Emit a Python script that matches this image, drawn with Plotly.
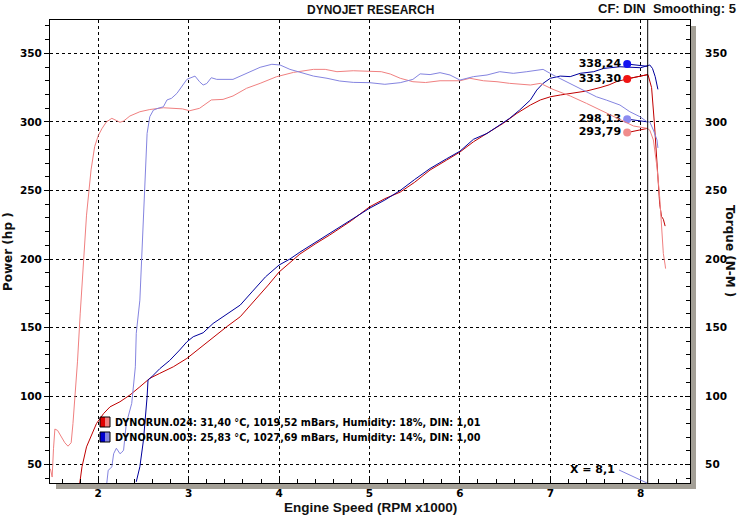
import plotly.graph_objects as go

# ---------------- data ----------------
# DYNORUN.024 (red) power (hp)
power_024_rpm = [1.79, 1.82, 1.87, 1.93, 1.98, 2.06, 2.13, 2.24, 2.35, 2.46, 2.57, 2.68, 2.83, 2.98,
                 3.12, 3.27, 3.42, 3.57, 3.75, 3.88, 4.0, 4.12, 4.23, 4.4, 4.56, 4.8, 5.0, 5.17, 5.34,
                 5.5, 5.67, 5.85, 6.0, 6.15, 6.33, 6.48, 6.63, 6.78, 6.89, 7.0, 7.11, 7.26, 7.40, 7.55,
                 7.65, 7.73, 7.88, 8.08, 8.12, 8.15, 8.18, 8.21, 8.23, 8.25, 8.27]
power_024 = [34, 48.5, 63, 72.8, 80, 87.4, 92.2, 95.9, 100.8, 106.8, 113, 116.6, 121.4, 127.5,
             134.8, 143.3, 150.6, 157.9, 171, 181, 190.5, 197.5, 203.6, 211, 217.5, 228, 238, 244, 248.8,
             256, 264.9, 272, 278, 285.5, 292.8, 299, 306.2, 312.3, 316, 318.3, 319.6, 321.3, 322.5, 325,
             327, 329.3, 331.8, 334.5, 325, 300, 270, 240, 231, 229, 224]

# DYNORUN.024 (red) torque (N-M)
torque_024_rpm = [1.47, 1.49, 1.505, 1.52, 1.55, 1.59, 1.63, 1.665, 1.70, 1.72, 1.74, 1.77, 1.80, 1.83,
                  1.87, 1.92, 1.96, 2.0, 2.04, 2.09, 2.15, 2.2, 2.24, 2.28, 2.35, 2.46, 2.57, 2.72, 2.83,
                  2.93, 3.01, 3.12, 3.25, 3.38, 3.49, 3.64, 3.79, 3.97, 4.16, 4.38, 4.51, 4.64, 4.82,
                  5.04, 5.13, 5.23, 5.34, 5.48, 5.62, 5.78, 6.0, 6.11, 6.26, 6.41, 6.55, 6.78, 6.89,
                  7.03, 7.22, 7.40, 7.59, 7.77, 7.92, 8.07, 8.10, 8.14, 8.18, 8.21, 8.23, 8.25, 8.27, 8.275]
torque_024 = [47, 41, 62, 76, 75, 70, 66, 63.5, 66, 80, 97, 125, 160, 195,
              232, 265, 282, 290, 295, 300, 302.6, 301, 299.7, 300.6, 304.3, 307.4, 309, 310.3, 310,
              309.5, 308.1, 309.9, 316, 316.4, 318.9, 324.5, 328.1, 332.9, 336.1, 338.3, 338.3, 336.6, 337.3,
              336.6, 336.6, 334.9, 331.8, 329.3, 328.7, 330, 330, 331.8, 330, 329.3, 328.1, 326.9, 328.1,
              323.7, 318.9, 313.5, 307.4, 301.3, 297, 295.3, 294, 286.8, 267, 245, 228, 204, 195.6, 193]

# DYNORUN.003 (blue) power (hp)
power_003_rpm = [2.42, 2.46, 2.50, 2.52, 2.54, 2.55, 2.59, 2.68, 2.79, 2.90, 2.98, 3.05, 3.16, 3.27,
                 3.38, 3.49, 3.57, 3.7, 3.85, 4.0, 4.12, 4.23, 4.4, 4.56, 4.8, 5.0, 5.17, 5.34, 5.5,
                 5.67, 5.85, 6.0, 6.15, 6.30, 6.44, 6.55, 6.66, 6.78, 6.85, 6.92, 7.0, 7.11, 7.22,
                 7.33, 7.48, 7.59, 7.77, 7.9, 8.0, 8.1, 8.13, 8.16, 8.19]
power_003 = [37.5, 48.5, 68, 82.5, 99.5, 111.7, 114, 120, 126, 133.6, 139.6, 143.3, 146.2, 153,
             157.9, 162.7, 166.4, 176, 187, 195.6, 200, 205, 212, 219, 229, 237, 243, 250, 258,
             266, 273, 278.6, 287.3, 291.6, 297.7, 302.6, 308.6, 316, 323.2, 328.1, 331.8, 333.4, 333,
             335.4, 336.6, 339, 340.2, 340, 339.5, 341.5, 339, 333, 323.7]

# DYNORUN.003 (blue) torque (N-M)
torque_003_rpm = [2.09, 2.11, 2.13, 2.15, 2.17, 2.20, 2.22, 2.24, 2.26, 2.28, 2.31, 2.34, 2.37, 2.41,
                  2.42, 2.46, 2.49, 2.52, 2.54, 2.57, 2.61, 2.66, 2.72, 2.76, 2.81, 2.87, 2.92, 2.98,
                  3.07, 3.12, 3.16, 3.20, 3.25, 3.31, 3.49, 3.64, 3.79, 3.92, 4.01, 4.12, 4.23, 4.38,
                  4.53, 4.67, 4.82, 5.0, 5.17, 5.34, 5.48, 5.56, 5.67, 5.78, 5.89, 6.0, 6.15, 6.30,
                  6.44, 6.59, 6.74, 6.85, 6.92, 7.03, 7.14, 7.29, 7.40, 7.51, 7.62, 7.77, 7.88, 7.99,
                  8.07, 8.10, 8.14, 8.18, 8.19]
torque_003 = [34, 46, 47, 48.5, 58, 62, 60, 58, 59, 60.6, 80, 88, 94.7, 121.4,
              145.8, 170, 215, 260, 291.6, 303.8, 308.6, 309.9, 311, 316, 317.2, 320.8, 325.6, 331,
              333.4, 329.3, 326.9, 328, 332.2, 331, 331, 335.4, 339.8, 342, 341.5, 338.3, 336.1, 333.4,
              331.8, 329.8, 328.8, 328.6, 327.4, 328.6, 331, 335, 334.5, 335.9, 334.2, 330.5, 333, 334.2,
              336.6, 335.4, 336.6, 337.8, 338.3, 334.2, 330.5, 325.6, 322, 318.3, 315.9, 312.3, 307.4, 303.8,
              300.1, 300, 294, 286.8, 281]

# cursor readout labels
cursor_rpm = 8.077
label_texts = ["338,24", "333,30", "298,13", "293,79"]
label_dot_rpm = 7.85
label_dot_y = [342.2, 331.3, 302.0, 292.2]
label_curve_y = [340.5, 334.5, 300.0, 295.3]

legend_lines = ["DYNORUN.024: 31,40 °C, 1019,52 mBars, Humidity: 18%, DIN: 1,01",
                "DYNORUN.003: 25,83 °C, 1027,69 mBars, Humidity: 14%, DIN: 1,00"]

# ---------------- style ----------------
DARK_RED = "#c00000"
LIGHT_RED = "#f08080"
DARK_BLUE = "#00009c"
LIGHT_BLUE = "#8484e0"
DOT_COLORS = ["#1414f0", "#f01414", "#8c8cf0", "#f08c8c"]
LEADER_COLORS = [DARK_BLUE, DARK_RED, DARK_BLUE, DARK_RED]
SHADOW = "#a39f96"
FONT = "DejaVu Sans"
NARROW = "Liberation Sans"

X_RANGE = [1.466, 8.545]
Y_RANGE = [36.65, 374.3]

fig = go.Figure()

fig.add_trace(go.Scatter(x=torque_024_rpm, y=torque_024, mode="lines", yaxis="y2",
                         line=dict(color=LIGHT_RED, width=1), name="Torque 024"))
fig.add_trace(go.Scatter(x=torque_003_rpm, y=torque_003, mode="lines", yaxis="y2",
                         line=dict(color=LIGHT_BLUE, width=1), name="Torque 003"))
fig.add_trace(go.Scatter(x=power_024_rpm, y=power_024, mode="lines",
                         line=dict(color=DARK_RED, width=1), name="Power 024"))
fig.add_trace(go.Scatter(x=power_003_rpm, y=power_003, mode="lines",
                         line=dict(color=DARK_BLUE, width=1), name="Power 003"))

# leader lines from label dots to curves
for i in range(4):
    fig.add_trace(go.Scatter(x=[label_dot_rpm, cursor_rpm], y=[label_dot_y[i], label_curve_y[i]],
                             mode="lines", line=dict(color=LEADER_COLORS[i], width=1),
                             hoverinfo="skip"))
fig.add_trace(go.Scatter(x=[label_dot_rpm] * 4, y=label_dot_y, mode="markers+text",
                         text=label_texts, textposition="middle left",
                         textfont=dict(family=FONT, size=11, color="black", weight="bold"),
                         marker=dict(size=8, color=DOT_COLORS), hoverinfo="skip"))

ml, mr, mt, mb = 50, 50, 20, 34
pw, ph = 740 - ml - mr, 517 - mt - mb


def px(xp):
    return (xp - ml) / pw


def py(yp):
    return (517 - mb - yp) / ph


tickfont = dict(family=FONT, size=10.5, color="black", weight="bold")

fig.update_layout(
    width=740, height=517,
    margin=dict(l=ml, r=mr, t=mt, b=mb),
    paper_bgcolor="white", plot_bgcolor="white",
    showlegend=False,
    xaxis=dict(range=X_RANGE, tick0=0, dtick=1, showgrid=True, gridcolor="black",
               griddash="3px,3px", gridwidth=1, zeroline=False,
               ticks="inside", ticklen=5, tickcolor="black", showline=True, linecolor="black",
               linewidth=1, mirror=True, tickfont=tickfont, ticklabelstandoff=0,
               minor=dict(dtick=0.2, tick0=0, ticks="inside", ticklen=4, tickcolor="black",
                          showgrid=False)),
    yaxis=dict(range=Y_RANGE, tick0=0, dtick=50, showgrid=True, gridcolor="black",
               griddash="3px,3px", gridwidth=1, zeroline=False,
               ticks="outside", ticklen=5, tickcolor="black", showline=True, linecolor="black",
               linewidth=1, tickfont=tickfont,
               minor=dict(dtick=10, tick0=0, ticks="outside", ticklen=4, tickcolor="black",
                          showgrid=False)),
    yaxis2=dict(range=Y_RANGE, tick0=0, dtick=50, overlaying="y", side="right", showgrid=False,
                zeroline=False, ticks="inside", ticklen=5, tickcolor="black", showline=True,
                linecolor="black", linewidth=1, tickfont=tickfont, ticklabelstandoff=12,
                minor=dict(dtick=10, tick0=0, ticks="inside", ticklen=4, tickcolor="black",
                           showgrid=False)),
)

shapes = [
    # cursor
    dict(type="line", xref="x", yref="paper", x0=cursor_rpm, x1=cursor_rpm, y0=0, y1=1,
         line=dict(color="black", width=1), layer="above"),
    # frame shadow
    dict(type="rect", xref="paper", yref="paper", x0=px(691), x1=px(696), y0=py(489), y1=py(26),
         fillcolor=SHADOW, line=dict(width=0)),
    dict(type="rect", xref="paper", yref="paper", x0=px(56), x1=px(696), y0=py(489), y1=py(484),
         fillcolor=SHADOW, line=dict(width=0)),
    # X = 8,1 leader
    dict(type="line", xref="paper", yref="paper", x0=px(619), y0=py(470), x1=px(647), y1=py(483),
         line=dict(color=LIGHT_BLUE, width=1)),
]
# legend swatches
for k, (c1, c2) in enumerate([("#e00000", LIGHT_RED), ("#0000d0", LIGHT_BLUE)]):
    top = 417 + 15 * k
    shapes.append(dict(type="rect", xref="paper", yref="paper", x0=px(100), x1=px(105),
                       y0=py(top + 10), y1=py(top), fillcolor=c1, line=dict(width=0)))
    shapes.append(dict(type="rect", xref="paper", yref="paper", x0=px(105), x1=px(110),
                       y0=py(top + 10), y1=py(top), fillcolor=c2, line=dict(width=0)))
    shapes.append(dict(type="rect", xref="paper", yref="paper", x0=px(100), x1=px(110),
                       y0=py(top + 10), y1=py(top), line=dict(color="black", width=1)))
fig.update_layout(shapes=shapes)

ann = [
    dict(text="DYNOJET RESEARCH", x=0.5, y=py(10), xanchor="center", yanchor="middle",
         font=dict(family=NARROW, size=12, color="#111111", weight="bold")),
    dict(text="CF: DIN\u00a0 Smoothing: 5", x=px(738), y=py(8), xanchor="right", yanchor="middle",
         font=dict(family=NARROW, size=13, color="#111111", weight="bold")),
    dict(text="Engine Speed (RPM x1000)", x=0.5, y=py(507), xanchor="center", yanchor="middle",
         font=dict(family=NARROW, size=13.5, color="#111111", weight="bold")),
    dict(text="Power (hp )", x=px(8), y=py(252), xanchor="center", yanchor="middle",
         textangle=-90, font=dict(family=FONT, size=12, color="#111111", weight="bold")),
    dict(text="Torque (N-M )", x=px(730), y=py(251), xanchor="center", yanchor="middle",
         textangle=90, font=dict(family=FONT, size=12, color="#111111", weight="bold")),
    dict(text="X = 8,1", x=px(617), y=py(469), xanchor="right", yanchor="middle",
         font=dict(family=FONT, size=11, color="black", weight="bold")),
]
for k, t in enumerate(legend_lines):
    ann.append(dict(text=t, x=px(113), y=py(422 + 15 * k), xanchor="left", yanchor="middle",
                    font=dict(family=FONT, size=9.7, color="black", weight="bold")))
for a in ann:
    a.update(xref="paper", yref="paper", showarrow=False)
fig.update_layout(annotations=ann)

fig.write_html("out.html")
